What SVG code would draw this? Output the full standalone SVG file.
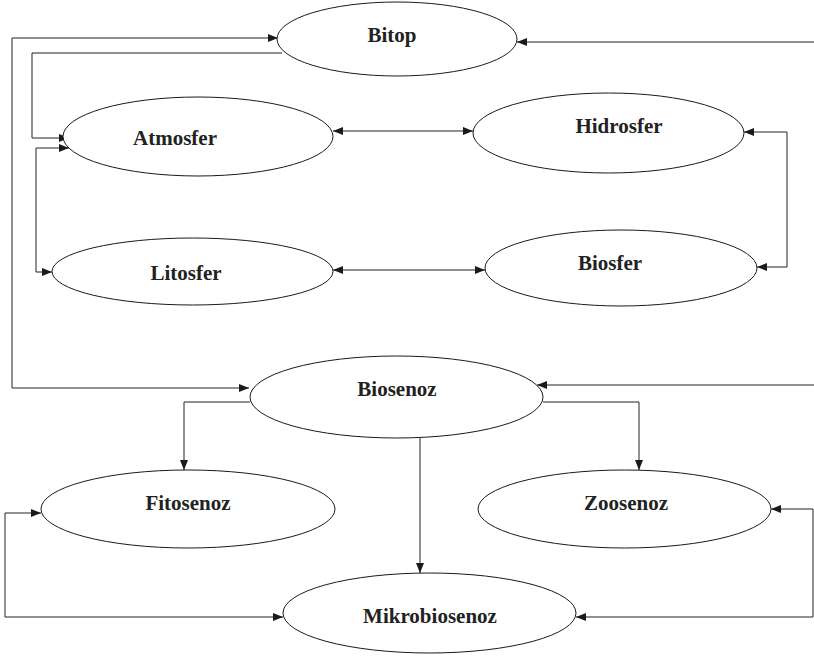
<svg xmlns="http://www.w3.org/2000/svg" width="814" height="656" viewBox="0 0 814 656">
<style>
.n ellipse{fill:#fff;stroke:#1a1a1a;stroke-width:1}
.n text{font-family:"Liberation Serif","Times New Roman",serif;font-weight:bold;font-size:21px;fill:#222;text-anchor:middle}
#connectors path{fill:none;stroke:#222;stroke-width:1}
.b{marker-start:url(#ah);marker-end:url(#ah)}
.e{marker-end:url(#ah)}
</style>
<defs>
<marker id="ah" viewBox="0 0 10 8" refX="10" refY="4" markerWidth="11" markerHeight="8" markerUnits="userSpaceOnUse" orient="auto-start-reverse">
<path d="M0,0 L10,4 L0,8 Z" fill="#1a1a1a"/>
</marker>
</defs>
<rect width="814" height="656" fill="#fff"/>
<g id="connectors">
<path class="b" d="M278,38 H12 V388 H249"/>
<path class="e" d="M282,53 H32 V138 H69"/>
<path class="b" d="M69,148 H36 V272 H52"/>
<path class="b" d="M333,131 H473"/>
<path class="b" d="M744,132 H787 V267 H757"/>
<path class="b" d="M333,270 H485"/>
<path class="e" d="M814,42 H517"/>
<path class="e" d="M814,385 H537"/>
<path class="e" d="M250,402 H184 V470"/>
<path class="e" d="M543,402 H639 V470"/>
<path class="e" d="M420,438 V573"/>
<path class="b" d="M41,513 H5 V617 H283"/>
<path class="b" d="M771,509 H813 V617 H576"/>
</g>
<g id="bitop" class="n"><ellipse cx="397" cy="39" rx="120" ry="37"/><text x="392" y="42">Bitop</text></g>
<g id="atmosfer" class="n"><ellipse cx="198" cy="136.5" rx="135" ry="39.5"/><text x="175" y="145">Atmosfer</text></g>
<g id="hidrosfer" class="n"><ellipse cx="608.5" cy="133" rx="135.5" ry="40"/><text x="619" y="133">Hidrosfer</text></g>
<g id="litosfer" class="n"><ellipse cx="192.5" cy="271.5" rx="140.5" ry="33.5"/><text x="186" y="280">Litosfer</text></g>
<g id="biosfer" class="n"><ellipse cx="621" cy="268" rx="136" ry="38"/><text x="610" y="270">Biosfer</text></g>
<g id="biosenoz" class="n"><ellipse cx="396.5" cy="397" rx="146.5" ry="41"/><text x="397" y="396">Biosenoz</text></g>
<g id="fitosenoz" class="n"><ellipse cx="188" cy="509" rx="147" ry="39"/><text x="188" y="510">Fitosenoz</text></g>
<g id="zoosenoz" class="n"><ellipse cx="624.5" cy="509" rx="146.5" ry="39"/><text x="626" y="510">Zoosenoz</text></g>
<g id="mikrobiosenoz" class="n"><ellipse cx="429.5" cy="613" rx="146.5" ry="40"/><text x="430" y="623">Mikrobiosenoz</text></g>
</svg>
